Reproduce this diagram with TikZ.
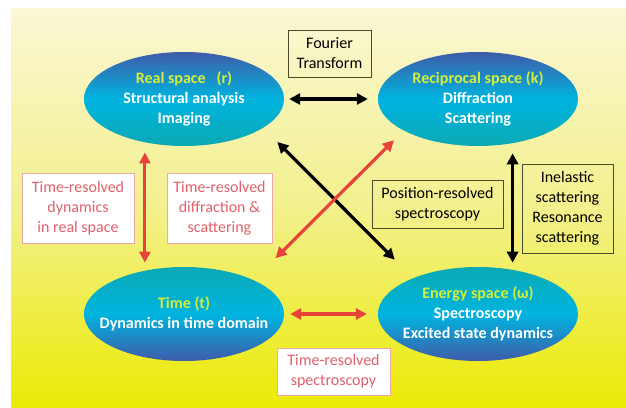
\documentclass[tikz,border=0pt]{standalone}
\usepackage{fontspec}
\setmainfont{Carlito}
\usepackage{tikz}
\usetikzlibrary{arrows.meta, shapes.geometric}
\usepackage{xcolor}

\definecolor{bgtop}{HTML}{FAF7D4}
\definecolor{bgmid}{HTML}{F3F08E}
\definecolor{bgbot}{HTML}{EBEB05}
\definecolor{ellblue}{HTML}{3F5CA9}
\definecolor{ellcyan}{HTML}{00B4DF}
\definecolor{ellteal}{HTML}{0BA9B4}
\definecolor{titlegreen}{HTML}{D4EE3A}
\definecolor{arrowred}{HTML}{E8433B}
\definecolor{boxpink}{HTML}{EBA9A9}
\definecolor{labelred}{HTML}{E0616C}
\definecolor{boxdark}{HTML}{4A4A2C}

\begin{document}
\begin{tikzpicture}[
  x=1pt, y=-1pt,
  font=\fontsize{16}{20}\selectfont,
  space/.style={ellipse, minimum width=200pt, minimum height=94pt, inner xsep=-40pt, inner ysep=-20pt, align=center, text=white, font=\bfseries\fontsize{16}{20}\selectfont},
  upper/.style={space, top color=ellblue, bottom color=ellteal, middle color=ellcyan},
  lower/.style={space, top color=ellteal, bottom color=ellblue, middle color=ellcyan},
  redbox/.style={rectangle, draw=boxpink, fill=white, text=labelred, line width=0.8pt, inner sep=0pt, align=center},
  blackbox/.style={rectangle, draw=boxdark, line width=0.8pt, inner sep=0pt, align=center},
  link/.style={line width=3.2pt, {Triangle[length=11pt,width=11pt]}-{Triangle[length=11pt,width=11pt]}},
  redlink/.style={link, draw=arrowred},
  blacklink/.style={link, draw=black}
]
\useasboundingbox (0,0) rectangle (626,407);

% Background
\shade[top color=bgtop, bottom color=bgbot, middle color=bgmid] (11,8) rectangle (626,407);

% Nodes
\node[upper] (real) at (184,99) {\textcolor{titlegreen}{Real space\ \ \ (r)}\\Structural analysis\\Imaging};
\node[upper] (recip) at (478,99) {\textcolor{titlegreen}{Reciprocal space (k)}\\Diffraction\\Scattering};
\node[lower] (time) at (184,314) {\textcolor{titlegreen}{Time (t)}\\Dynamics in time domain};
\node[lower] (energy) at (478,314) {\textcolor{titlegreen}{Energy space (ω)}\\Spectroscopy\\Excited state dynamics};

\node[blackbox, minimum width=83pt, minimum height=47pt] (fourier) at (329.5,53.5) {Fourier\\Transform};
\node[redbox, minimum width=112pt, minimum height=70pt] (dynreal) at (78,208) {Time-resolved\\dynamics\\in real space};
\node[redbox, minimum width=105pt, minimum height=70pt] (diffscat) at (219.5,208) {Time-resolved\\diffraction \&\\scattering};
\node[blackbox, minimum width=131pt, minimum height=48pt] (posres) at (437.5,204) {Position-resolved\\spectroscopy};
\node[blackbox, minimum width=91pt, minimum height=89pt] (inelastic) at (567.5,208.5) {Inelastic\\scattering\\Resonance\\scattering};
\node[redbox, minimum width=113pt, minimum height=47pt] (trspec) at (333.5,371.5) {Time-resolved\\spectroscopy};

% Connections
\draw[blacklink, shorten <=5pt, shorten >=10pt] (real.east) -- (recip.west);
\draw[redlink, shorten <=6pt, shorten >=11pt] (time.east) -- (energy.west);
\draw[redlink, shorten <=10pt, shorten >=8pt] (real.228) -- (time.132);
\draw[blacklink, shorten <=10pt, shorten >=7pt] (recip.-52.4) -- (energy.52.4);
\draw[blacklink, shorten <=20pt, shorten >=26pt] (real.-20) -- (energy.151.6);
\draw[redlink, shorten <=31pt, shorten >=13.6pt] (time.26.6) -- (recip.-157.1);

\end{tikzpicture}
\end{document}
